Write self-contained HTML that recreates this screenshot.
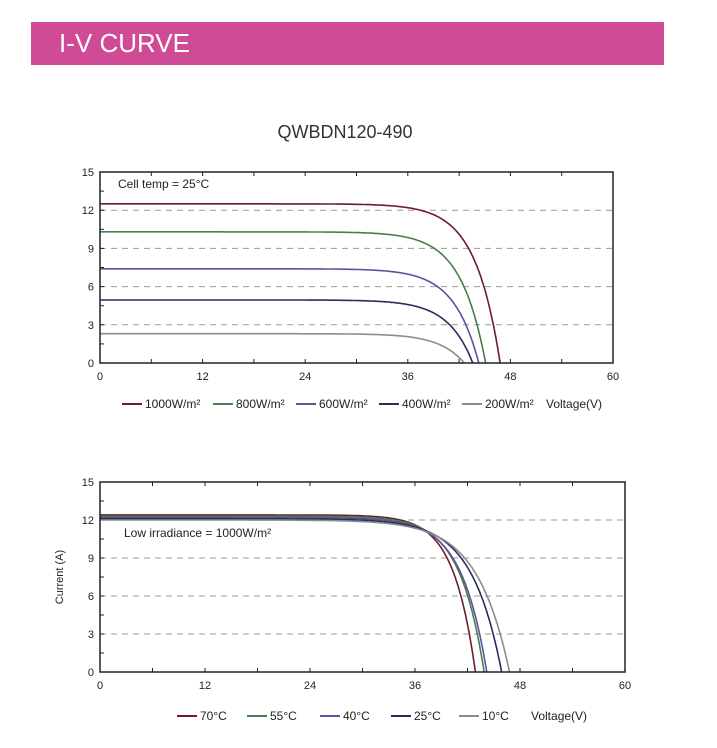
<!DOCTYPE html>
<html><head><meta charset="utf-8"><style>
body{margin:0;background:#fff;width:717px;height:748px;overflow:hidden;font-family:"Liberation Sans",sans-serif}
.bar{position:absolute;left:31px;top:22px;width:633px;height:43px;background:#d04b95}
.bar span{position:absolute;left:28px;top:6px;color:#fff;font-size:26px;letter-spacing:0px}
svg{position:absolute;left:0;top:0}
</style></head><body>
<div class="bar"><span>I-V CURVE</span></div>
<svg id="s" width="717" height="748" xmlns="http://www.w3.org/2000/svg" font-family="Liberation Sans, sans-serif"></svg>
<script>
var s=document.getElementById('s'),h='';
h+='<text x="345" y="138" text-anchor="middle" font-size="18" fill="#333">QWBDN120-490</text>';
function chart(x0,x1,yt,yb,curves,leg,ly,label,lx,ly2,ylab){
 var px=(x1-x0)/60,py=(yb-yt)/15;
 for(var k=3;k<=12;k+=3){var y=yb-k*py;h+='<line x1="'+x0+'" x2="'+x1+'" y1="'+y+'" y2="'+y+'" stroke="#999" stroke-width="1" stroke-dasharray="6,5"/>';}
 for(var k=0;k<=15;k+=3){var y=yb-k*py;h+='<text x="'+(x0-6)+'" y="'+(y+4)+'" text-anchor="end" font-size="11" fill="#222">'+k+'</text>';}
 for(var k=0;k<=15;k+=1.5){var y=yb-k*py;h+='<line x1="'+x0+'" x2="'+(x0+4)+'" y1="'+y+'" y2="'+y+'" stroke="#222"/>';}
 for(var v=0;v<=60;v+=6){var x=x0+v*px;h+='<line x1="'+x+'" x2="'+x+'" y1="'+yb+'" y2="'+(yb-4)+'" stroke="#222"/><line x1="'+x+'" x2="'+x+'" y1="'+yt+'" y2="'+(yt+4)+'" stroke="#222"/>';
  if(v%12==0)h+='<text x="'+x+'" y="'+(yb+17)+'" text-anchor="middle" font-size="11" fill="#222">'+v+'</text>';}
 curves.forEach(function(c){var d='',vt=c[3]||2.9;
  for(var v=0;v<=c[1];v+=0.1){var i=c[0]*(1-Math.exp((v-c[1])/vt))/(1-Math.exp(-c[1]/vt));
   d+=(d?'L':'M')+(x0+v*px).toFixed(1)+','+(yb-i*py).toFixed(1);}
  d+='L'+(x0+c[1]*px).toFixed(1)+','+yb;
  h+='<path d="'+d+'" fill="none" stroke="'+c[2]+'" stroke-width="1.6"/>';});
 h+='<rect x="'+x0+'" y="'+yt+'" width="'+(x1-x0)+'" height="'+(yb-yt)+'" fill="none" stroke="#222" stroke-width="1.5"/>';
 h+='<text x="'+lx+'" y="'+ly2+'" font-size="12" fill="#222">'+label+'</text>';
 leg.forEach(function(l){h+='<line x1="'+l[0]+'" x2="'+(l[0]+20)+'" y1="'+(ly-4)+'" y2="'+(ly-4)+'" stroke="'+l[2]+'" stroke-width="2"/><text x="'+(l[0]+23)+'" y="'+ly+'" font-size="12" fill="#222">'+l[1]+'</text>';});
 if(ylab)h+='<text transform="translate(63,'+((yt+yb)/2)+') rotate(-90)" text-anchor="middle" font-size="11" fill="#222">Current (A)</text>';
}
var C1='#6b1f2a',C2='#4a7d4e',C3='#5b52a0',C4='#2e2a5e',C5='#8c8c8c';
chart(100,613,172,363,[[12.5,46.8,C1],[10.3,45.1,C2],[7.4,44.3,C3],[4.95,43.6,C4],[2.3,42.6,C5]],
 [[122,'1000W/m²',C1],[213,'800W/m²',C2],[296,'600W/m²',C3],[379,'400W/m²',C4],[462,'200W/m²',C5]],408,'Cell temp = 25°C',118,188,false);
h+='<text x="546" y="408" font-size="12" fill="#222">Voltage(V)</text>';
chart(100,625,482,672,[[12.4,42.9,C1,2.5],[12.3,43.9,C2,2.8],[12.2,44.2,C3,2.9],[12.1,45.9,C4,3.4],[12.0,46.8,C5,3.7]],
 [[177,'70°C',C1],[247,'55°C',C2],[320,'40°C',C3],[391,'25°C',C4],[459,'10°C',C5]],720,'Low irradiance = 1000W/m²',124,537,true);
h+='<text x="531" y="720" font-size="12" fill="#222">Voltage(V)</text>';
s.innerHTML=h;
</script>
</body></html>
